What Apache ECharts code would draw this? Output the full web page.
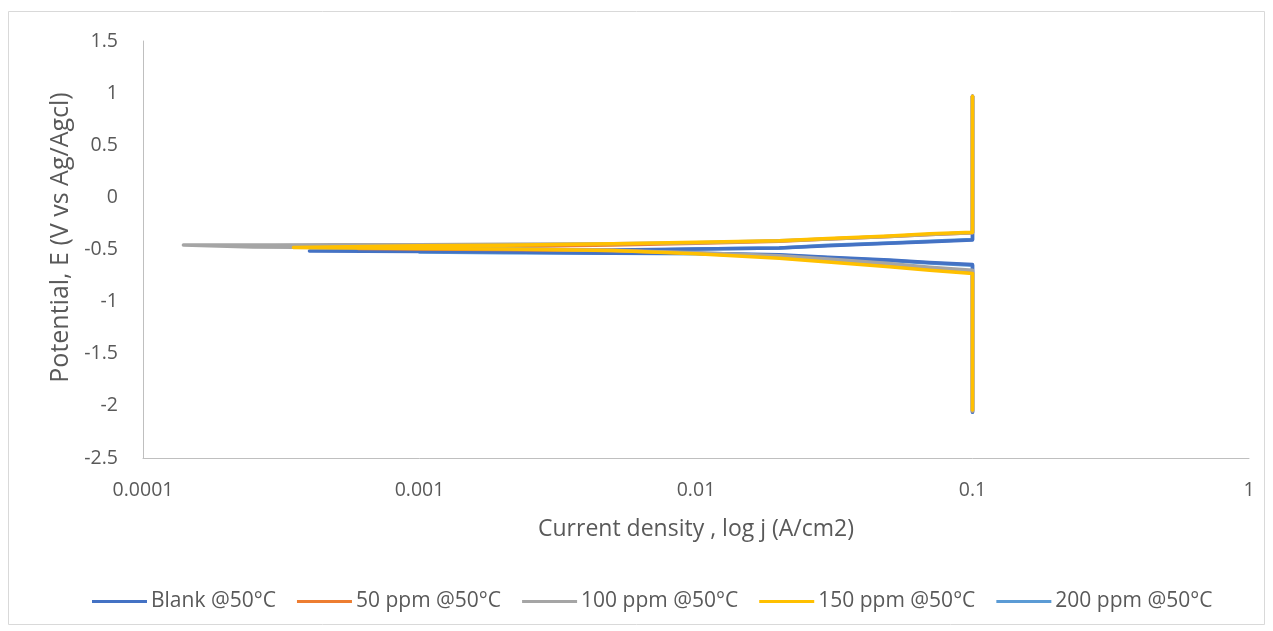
<!DOCTYPE html>
<html>
<head>
<meta charset="utf-8">
<script src="https://cdn.jsdelivr.net/npm/echarts@6/dist/echarts.min.js"></script>
<style>
  html, body { margin: 0; padding: 0; background: #ffffff; }
  #chart { width: 1273px; height: 631px; }
</style>
</head>
<body>
<div id="chart"></div>
<script>
// Tafel polarisation curves: current density (A/cm2, log scale) vs potential (V vs Ag/AgCl)
const seriesNames = ['Blank @50°C', '50 ppm @50°C', '100 ppm @50°C', '150 ppm @50°C', '200 ppm @50°C'];
const seriesColors = ['#4472C4', '#ED7D31', '#A5A5A5', '#FFC000', '#5B9BD5'];

const xTickLabels = ['0.0001', '0.001', '0.01', '0.1', '1'];

// Blank
const blankJ = [0.1, 0.1, 0.07, 0.05, 0.03, 0.02, 0.01, 0.005, 0.002, 0.001, 0.0004, 0.001, 0.002, 0.005, 0.01, 0.02, 0.03, 0.05, 0.07, 0.1, 0.1];
const blankE = [-2.06, -0.645, -0.625, -0.60, -0.575, -0.55, -0.535, -0.535, -0.525, -0.52, -0.515, -0.51, -0.51, -0.505, -0.495, -0.485, -0.465, -0.44, -0.425, -0.41, 0.97];

// 50 ppm
const ppm50J = [0.1, 0.1, 0.07, 0.05, 0.03, 0.02, 0.01, 0.005, 0.002, 0.001, 0.0006, 0.001, 0.002, 0.005, 0.01, 0.02, 0.03, 0.05, 0.07, 0.1, 0.1];
const ppm50E = [-2.05, -0.715, -0.685, -0.65, -0.605, -0.575, -0.535, -0.51, -0.50, -0.495, -0.49, -0.478, -0.472, -0.458, -0.44, -0.42, -0.40, -0.375, -0.355, -0.34, 0.97];

// 100 ppm
const ppm100J = [0.1, 0.1, 0.07, 0.05, 0.03, 0.02, 0.01, 0.005, 0.002, 0.001, 0.0005, 0.00025, 0.00025, 0.00014, 0.0003, 0.0005, 0.001, 0.002, 0.005, 0.01, 0.02, 0.03, 0.05, 0.07, 0.1, 0.1];
const ppm100E = [-2.05, -0.70, -0.67, -0.635, -0.59, -0.56, -0.53, -0.51, -0.49, -0.485, -0.48, -0.475, -0.458, -0.458, -0.456, -0.455, -0.455, -0.45, -0.445, -0.435, -0.415, -0.40, -0.375, -0.355, -0.34, 0.97];

// 150 ppm
const ppm150J = [0.1, 0.1, 0.07, 0.05, 0.03, 0.02, 0.01, 0.005, 0.002, 0.001, 0.00035, 0.001, 0.002, 0.005, 0.01, 0.02, 0.03, 0.05, 0.07, 0.1, 0.1];
const ppm150E = [-2.04, -0.73, -0.70, -0.665, -0.62, -0.585, -0.54, -0.51, -0.495, -0.49, -0.48, -0.465, -0.46, -0.445, -0.43, -0.415, -0.395, -0.37, -0.35, -0.335, 0.97];

// 200 ppm
const ppm200J = [0.1, 0.1, 0.07, 0.05, 0.03, 0.02, 0.01, 0.005, 0.002, 0.001, 0.002, 0.005, 0.01, 0.02, 0.03, 0.05, 0.07, 0.1, 0.1];
const ppm200E = [-2.06, -0.65, -0.63, -0.605, -0.58, -0.555, -0.54, -0.537, -0.53, -0.525, -0.515, -0.515, -0.495, -0.485, -0.46, -0.437, -0.42, -0.405, 0.97];

const allJ = [blankJ, ppm50J, ppm100J, ppm150J, ppm200J];
const allE = [blankE, ppm50E, ppm100E, ppm150E, ppm200E];
// drawing order: 200 ppm sits underneath the blank curve, 150 ppm on top
const zOrder = [2, 3, 4, 5, 1];

const pair = (js, es) => js.map((j, i) => [j, es[i]]);
const textColor = '#595959';
const font = 'Open Sans';

const chart = echarts.init(document.getElementById('chart'), null, { renderer: 'canvas' });

chart.setOption({
  animation: false,
  backgroundColor: '#ffffff',
  textStyle: { fontFamily: font },
  graphic: [{
    type: 'rect',
    shape: { x: 8.5, y: 11.5, width: 1256, height: 613 },
    style: { fill: 'none', stroke: '#d9d9d9', lineWidth: 1 },
    silent: true
  }],
  grid: { left: 143, right: 24, top: 41, bottom: 173 },
  xAxis: {
    type: 'log',
    logBase: 10,
    min: 0.0001,
    max: 1,
    name: 'Current density , log j (A/cm2)',
    nameLocation: 'middle',
    nameGap: 60,
    nameTextStyle: { color: textColor, fontSize: 23, fontFamily: font },
    axisLine: { show: true, onZero: false, lineStyle: { color: '#bfbfbf', width: 1 } },
    axisTick: { show: false },
    splitLine: { show: false },
    minorTick: { show: false },
    axisLabel: {
      color: textColor, fontSize: 19.5, margin: 22, fontFamily: font,
      formatter: (v) => {
        const k = Math.round(Math.log10(v)) + 4;
        return xTickLabels[k] !== undefined ? xTickLabels[k] : '';
      }
    }
  },
  yAxis: {
    type: 'value',
    min: -2.5,
    max: 1.5,
    interval: 0.5,
    name: 'Potential, E (V vs Ag/Agcl)',
    nameLocation: 'middle',
    nameGap: 66,
    nameRotate: 90,
    nameTextStyle: { color: textColor, fontSize: 25, fontFamily: font, padding: [0, 0, 0, 24] },
    axisLine: { show: true, onZero: false, lineStyle: { color: '#bfbfbf', width: 1 } },
    axisTick: { show: false },
    splitLine: { show: false },
    axisLabel: { color: textColor, fontSize: 19.5, margin: 25, fontFamily: font }
  },
  legend: {
    bottom: 14,
    left: 87,
    itemGap: 21,
    itemWidth: 55,
    itemHeight: 3,
    icon: 'rect',
    textStyle: { color: textColor, fontSize: 21, fontFamily: font, padding: [0, 0, 0, -1] },
    data: seriesNames
  },
  series: seriesNames.map((name, i) => ({
    name: name,
    type: 'line',
    data: pair(allJ[i], allE[i]),
    showSymbol: false,
    symbol: 'none',
    z: zOrder[i],
    color: seriesColors[i],
    lineStyle: { color: seriesColors[i], width: 3.5, cap: 'round', join: 'round' }
  }))
});
</script>
</body>
</html>
